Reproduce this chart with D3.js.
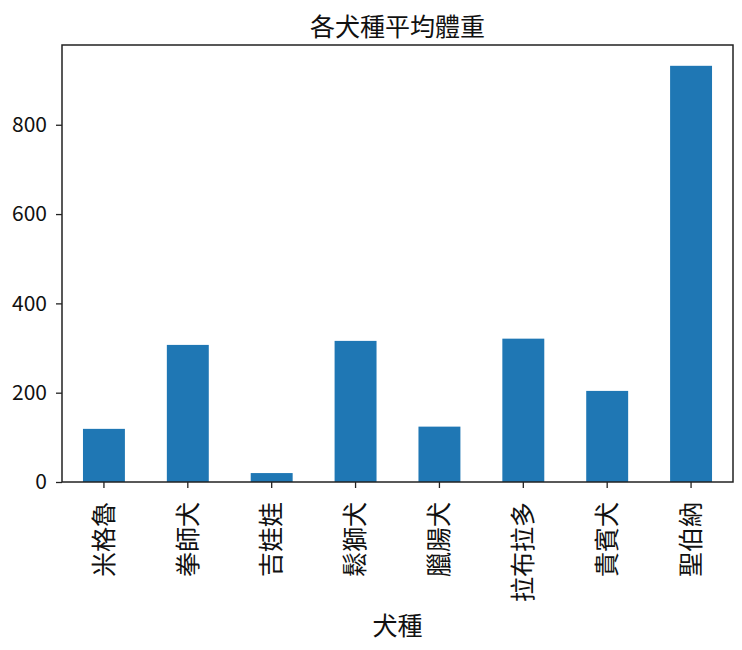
<!DOCTYPE html>
<html>
<head>
<meta charset="utf-8">
<script src="https://cdn.jsdelivr.net/npm/d3@7"></script>
<style>
  body { margin: 0; background: #fff; }
  text { font-family: "Noto Sans CJK TC", "Noto Sans", sans-serif; fill: #111; }
</style>
</head>
<body>
<div id="chart"></div>
<script>
var width = 742;
var height = 650;

// 各犬種平均體重
var breeds = ["米格魯", "拳師犬", "吉娃娃", "鬆獅犬", "臘腸犬", "拉布拉多", "貴賓犬", "聖伯納"];
var weights = [119, 307, 20, 316, 124, 321, 204, 932];
var yTicks = [0, 200, 400, 600, 800];

var margin = {top: 45, right: 9, bottom: 168, left: 62},
    innerWidth = width - margin.left - margin.right,
    innerHeight = height - margin.top - margin.bottom;

var svg = d3.select("#chart")
  .append("svg")
  .attr("width", width)
  .attr("height", height);

var g = svg.append("g")
  .attr("transform", "translate(" + margin.left + "," + margin.top + ")");

var x = d3.scaleBand()
  .domain(breeds)
  .range([0, innerWidth])
  .paddingInner(0.5)
  .paddingOuter(0.25);

var y = d3.scaleLinear()
  .domain([0, d3.max(weights) * 1.05])
  .range([innerHeight, 0]);

var data = breeds.map(function(b, i) { return {breed: b, value: weights[i]}; });

g.selectAll("rect.bar")
  .data(data)
  .enter().append("rect")
    .attr("class", "bar")
    .attr("x", function(d) { return x(d.breed); })
    .attr("y", function(d) { return y(d.value); })
    .attr("width", x.bandwidth())
    .attr("height", function(d) { return innerHeight - y(d.value); })
    .attr("fill", "#1f77b4");

// y axis
var yAxis = g.append("g")
  .call(d3.axisLeft(y).tickValues(yTicks).tickSize(6).tickPadding(9));
yAxis.select(".domain").remove();
yAxis.selectAll("line").attr("stroke", "#222").attr("stroke-width", 1.3);
yAxis.selectAll("text")
  .attr("font-size", 21)
  .style("font-family", "'Noto Sans CJK TC', 'Noto Sans', sans-serif")
  .attr("fill", "#111");

// x axis
var xAxis = g.append("g")
  .attr("transform", "translate(0," + innerHeight + ")")
  .call(d3.axisBottom(x).tickSize(6).tickPadding(4));
xAxis.select(".domain").remove();
xAxis.selectAll("line").attr("stroke", "#222").attr("stroke-width", 1.3);
xAxis.selectAll("text")
  .attr("font-size", 25)
  .style("font-family", "'Noto Sans CJK TC', sans-serif")
  .attr("fill", "#111")
  .attr("transform", "rotate(-90)")
  .attr("text-anchor", "end")
  .attr("x", -20)
  .attr("y", 0)
  .attr("dy", "0.35em");

// frame
g.append("rect")
  .attr("width", innerWidth)
  .attr("height", innerHeight)
  .attr("fill", "none")
  .attr("stroke", "#222")
  .attr("stroke-width", 1.5);

// title
svg.append("text")
  .attr("x", margin.left + innerWidth / 2)
  .attr("y", 36)
  .attr("text-anchor", "middle")
  .attr("font-size", 25)
  .text("各犬種平均體重");

// x label
svg.append("text")
  .attr("x", margin.left + innerWidth / 2)
  .attr("y", 635)
  .attr("text-anchor", "middle")
  .attr("font-size", 25)
  .text("犬種");
</script>
</body>
</html>
